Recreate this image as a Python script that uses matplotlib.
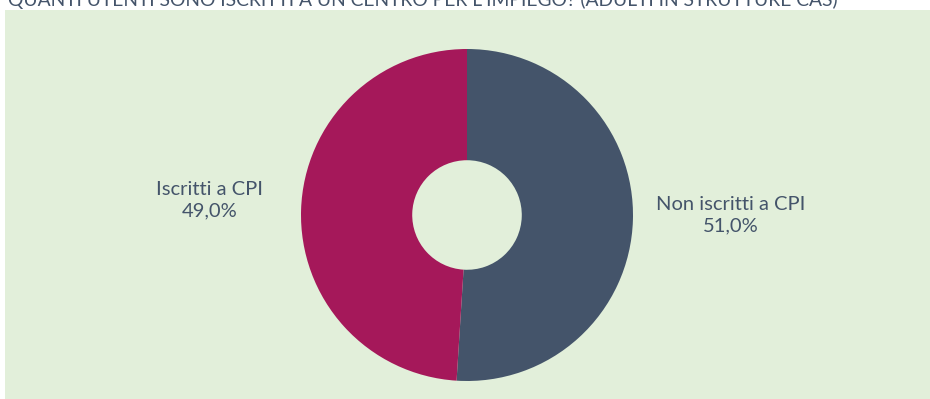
import matplotlib.pyplot as plt

# Iscrizione ai centri per l'impiego
categorie = ["Non iscritti a CPI", "Iscritti a CPI"]
percentuali = [51.0, 49.0]
colori = ["#44546A", "#A5185A"]
titolo = "QUANTI UTENTI SONO ISCRITTI A UN CENTRO PER L'IMPIEGO? (ADULTI IN STRUTTURE CAS)"

plt.rcParams['font.family'] = ['Lato', 'DejaVu Sans']
col_testo = "#44546A"

W, H = 930, 399
fig = plt.figure(figsize=(W / 100, H / 100), dpi=100)
fig.patch.set_facecolor("white")

# riquadro verde di sfondo
sfondo = fig.add_axes([5 / W, 0, 925 / W, 389 / H])
sfondo.set_facecolor("#E2EFDA")
sfondo.set_xticks([])
sfondo.set_yticks([])
for s in sfondo.spines.values():
    s.set_visible(False)

fig.text(8 / W, 1 - 6 / H, titolo, fontsize=13.9, color=col_testo, va="baseline", ha="left")

cx, cy, r = 467, 399 - 215, 166
ax = fig.add_axes([(cx - r) / W, (cy - r) / H, 2 * r / W, 2 * r / H])
ax.set_facecolor("none")
ax.pie(percentuali, colors=colori, startangle=90, counterclock=False, radius=1,
       wedgeprops=dict(width=0.67, edgecolor="none"))
ax.set_xlim(-1, 1)
ax.set_ylim(-1, 1)
ax.set_aspect("equal")
ax.axis("off")

# etichette con categoria e percentuale
pos_etichette = [(1.59, 0.0), (-1.55, 0.09)]
for nome, val, (x, y) in zip(categorie, percentuali, pos_etichette):
    ax.text(x, y, f"{nome}\n{val:.1f}%".replace(".", ","), ha="center", va="center",
            fontsize=14.5, color=col_testo, linespacing=1.35, clip_on=False)

fig.savefig("out.png", dpi=100)
